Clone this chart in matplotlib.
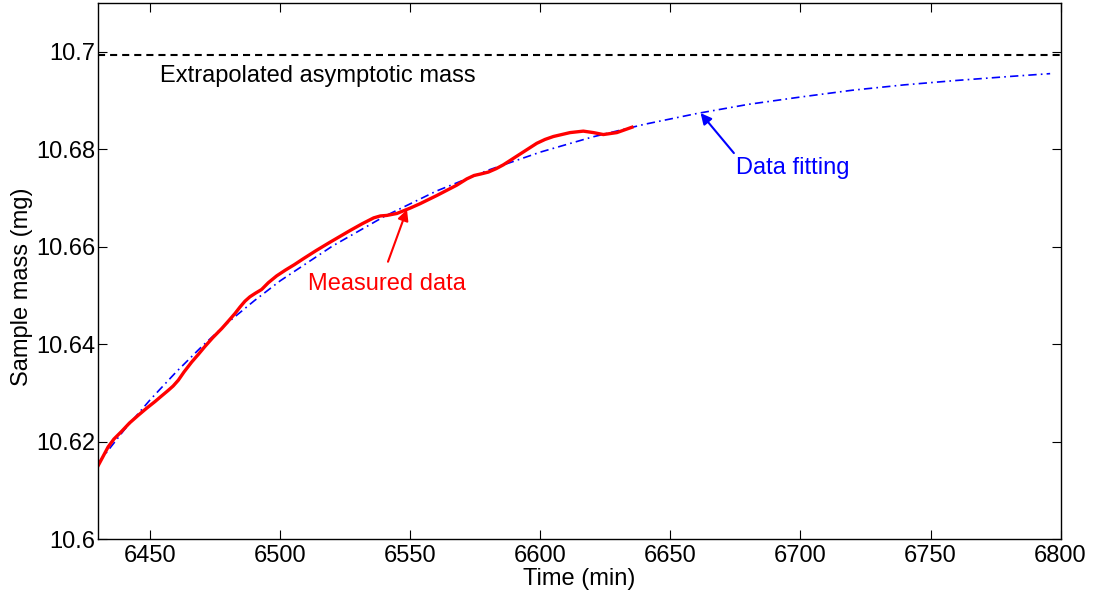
import matplotlib
matplotlib.use('Agg')
import matplotlib.pyplot as plt

plt.rcParams['font.family'] = ['Liberation Sans', 'DejaVu Sans']

# measured sample mass (mg) vs time (min)
time_meas = [6430, 6432, 6433.8, 6436, 6439, 6442, 6445.4, 6448.5, 6451.8, 6454, 6456.9,
             6458.8, 6460.8, 6463, 6465.9, 6468.5, 6471, 6474, 6477.5, 6480, 6482.6,
             6484.5, 6486.4, 6488.3, 6490.3, 6492.8, 6495.4, 6498.6, 6502, 6505.4, 6508.8,
             6513.8, 6519.1, 6526.8, 6531.5, 6535.9, 6538.5, 6540.9, 6544.8, 6549.9, 6553.7,
             6560.2, 6567.8, 6571.7, 6574.5, 6577, 6580, 6583, 6585.8, 6592.2, 6598.6,
             6601.8, 6605, 6611.4, 6616.5, 6620.4, 6624.2, 6629.4, 6635.2]
mass_meas = [10.6151, 10.6171, 10.6189, 10.6205, 10.6221, 10.6238, 10.6254, 10.6268, 10.6282, 10.6292, 10.6305,
             10.6314, 10.6326, 10.6343, 10.6363, 10.6379, 10.6395, 10.6413, 10.6432, 10.6447, 10.6463,
             10.6476, 10.6488, 10.6497, 10.6504, 10.6512, 10.6526, 10.6540, 10.6552, 10.6563, 10.6575,
             10.6592, 10.6609, 10.6633, 10.6647, 10.6659, 10.6663, 10.6664, 10.6668, 10.6679, 10.6688,
             10.6705, 10.6726, 10.6739, 10.6746, 10.6749, 10.6753, 10.6760, 10.6768, 10.6790, 10.6812,
             10.6820, 10.6826, 10.6834, 10.6837, 10.6834, 10.6830, 10.6834, 10.6845]

# fitted curve
time_fit = [6430, 6440, 6450, 6460, 6470, 6480, 6490, 6500, 6520, 6540, 6560, 6580,
            6600, 6620, 6640, 6660, 6680, 6700, 6720, 6740, 6760, 6780, 6796]
mass_fit = [10.6156, 10.6224, 10.6286, 10.6343, 10.6396, 10.6445, 10.6489, 10.6530, 10.6601,
            10.6662, 10.6714, 10.6757, 10.6794, 10.6825, 10.6851, 10.6873, 10.6892, 10.6907,
            10.6921, 10.6932, 10.6941, 10.6949, 10.6955]

mass_asym = 10.6993

xticks = [6450, 6500, 6550, 6600, 6650, 6700, 6750, 6800]
yticks = [10.6, 10.62, 10.64, 10.66, 10.68, 10.7]
ytick_labels = ['10.6', '10.62', '10.64', '10.66', '10.68', '10.7']

FS = 17

fig = plt.figure(figsize=(10.93, 5.95), dpi=100)
ax = fig.add_axes([0.0899, 0.0941, 0.8804, 0.9009])

ax.axhline(mass_asym, color='black', lw=1.5, dashes=(3.4, 2.4))
ax.plot(time_fit, mass_fit, color='blue', lw=1.2, dashes=(5, 2.5, 1, 2.5))
ax.plot(time_meas, mass_meas, color='red', lw=2.4, solid_joinstyle='round')

ax.set_xlim(6430, 6800)
ax.set_ylim(10.6, 10.71)
ax.set_xticks(xticks)
ax.set_yticks(yticks)
ax.set_yticklabels(ytick_labels)
ax.tick_params(direction='in', length=6.7, width=0.8, top=True, right=True,
               labelsize=FS, colors='black')
ax.tick_params(axis='x', pad=4)
ax.tick_params(axis='y', pad=2)
for s in ax.spines.values():
    s.set_linewidth(1.0)

ax.set_xlabel('Time (min)', fontsize=FS, labelpad=1)
ax.set_ylabel('Sample mass (mg)', fontsize=FS)
ax.yaxis.set_label_coords(-0.068, 0.47)

ax.text(6453.7, 10.695, 'Extrapolated asymptotic mass', fontsize=FS, color='black',
        va='center', ha='left')

ax.text(6510.8, 10.6524, 'Measured data', fontsize=FS, color='red', va='center', ha='left')
ax.annotate('', xy=(6548.7, 10.6676), xytext=(6541.4, 10.6569),
            arrowprops=dict(arrowstyle='-|>', color='red', lw=1.5, mutation_scale=16,
                            shrinkA=0, shrinkB=0))

ax.text(6675.3, 10.6762, 'Data fitting', fontsize=FS, color='blue', va='center', ha='left')
ax.annotate('', xy=(6661.6, 10.6874), xytext=(6674.4, 10.6792),
            arrowprops=dict(arrowstyle='-|>', color='blue', lw=1.5, mutation_scale=16,
                            shrinkA=0, shrinkB=0))

fig.savefig('out.png', dpi=100)
